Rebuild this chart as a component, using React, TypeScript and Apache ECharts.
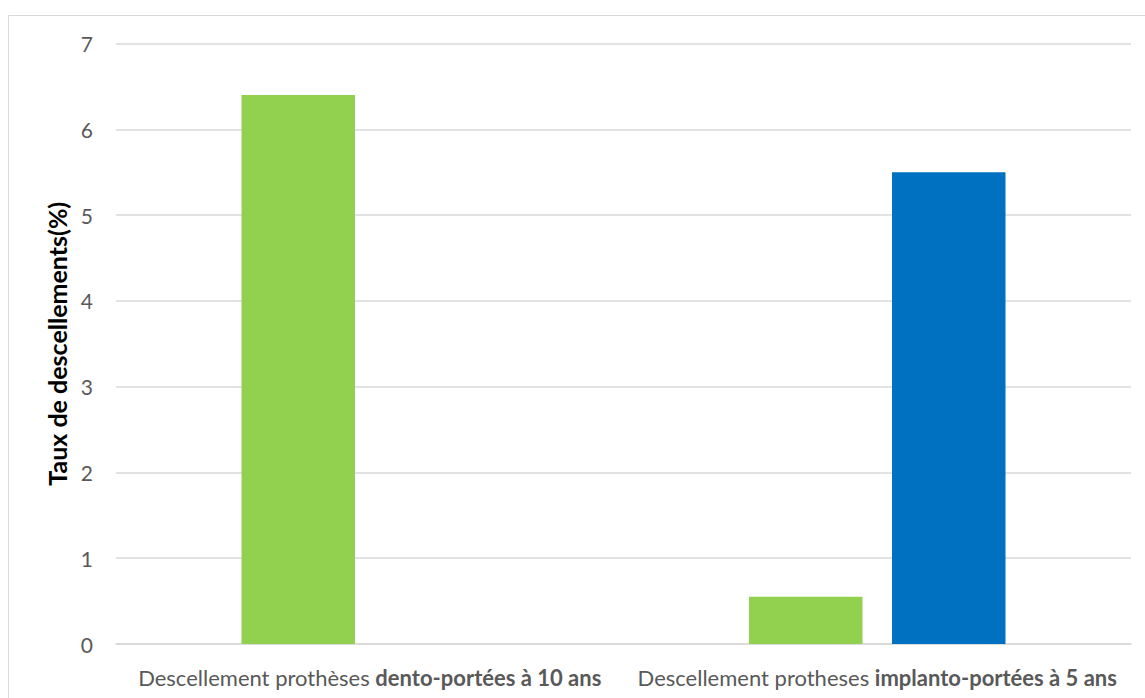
import React, { useEffect, useRef } from "react";
import * as echarts from "echarts";

const categoriesPlain = ["Descellement prothèses ", "Descellement protheses "];
const categoriesBold = ["dento-portées à 10 ans", "implanto-portées à 5 ans"];
const greenValues = [6.4, 0.55];
const blueValues: (number | null)[] = [null, 5.5];
const yTicks = { min: 0, max: 7, interval: 1 };
const yName = "Taux de descellements(%)";

export default function App() {
  const ref = useRef<HTMLDivElement>(null);
  useEffect(() => {
    document.body.style.margin = "0";
    const chart = echarts.init(ref.current!, null, { renderer: "svg" });
    const font = "Lato, 'Open Sans', sans-serif";
    chart.setOption({
      animation: false,
      backgroundColor: "#ffffff",
      graphic: [
        {
          type: "rect",
          shape: { x: 8.5, y: 15.5, width: 1150, height: 700 },
          style: { fill: "none", stroke: "#d9d9d9", lineWidth: 1 },
          silent: true,
        },
      ],
      grid: { left: 116, right: 14, top: 43.5, bottom: 54, containLabel: false },
      xAxis: {
        type: "category",
        data: categoriesPlain.map((p, i) => p + "|" + categoriesBold[i]),
        axisLine: { lineStyle: { color: "#d9d9d9", width: 1.5 } },
        axisTick: { show: false },
        axisLabel: {
          margin: 22,
          interval: 0,
          formatter: (v: string) => {
            const [a, b] = v.split("|");
            return "{n|" + a + "}{b|" + b + "}";
          },
          rich: {
            n: { fontFamily: font, fontSize: 22, color: "#595959" },
            b: { fontFamily: font, fontSize: 22, color: "#595959", fontWeight: "bold" },
          },
        },
      },
      yAxis: {
        type: "value",
        min: yTicks.min,
        max: yTicks.max,
        interval: yTicks.interval,
        name: yName,
        nameLocation: "middle",
        nameGap: 47,
        nameTextStyle: { fontFamily: font, fontSize: 25, fontWeight: "bold", color: "#000000" },
        axisLine: { show: false },
        axisTick: { show: false },
        splitLine: { lineStyle: { color: "#d9d9d9", width: 1.5 } },
        axisLabel: { margin: 23, fontFamily: font, fontSize: 21, color: "#595959" },
      },
      series: [
        {
          type: "bar",
          data: greenValues,
          barWidth: 113.5,
          barGap: "26%",
          itemStyle: { color: "#92d050" },
        },
        {
          type: "bar",
          data: blueValues,
          barWidth: 113.5,
          barGap: "26%",
          itemStyle: { color: "#0070c0" },
        },
      ],
    });
    return () => chart.dispose();
  }, []);
  return <div ref={ref} style={{ width: 1145, height: 698 }} />;
}
